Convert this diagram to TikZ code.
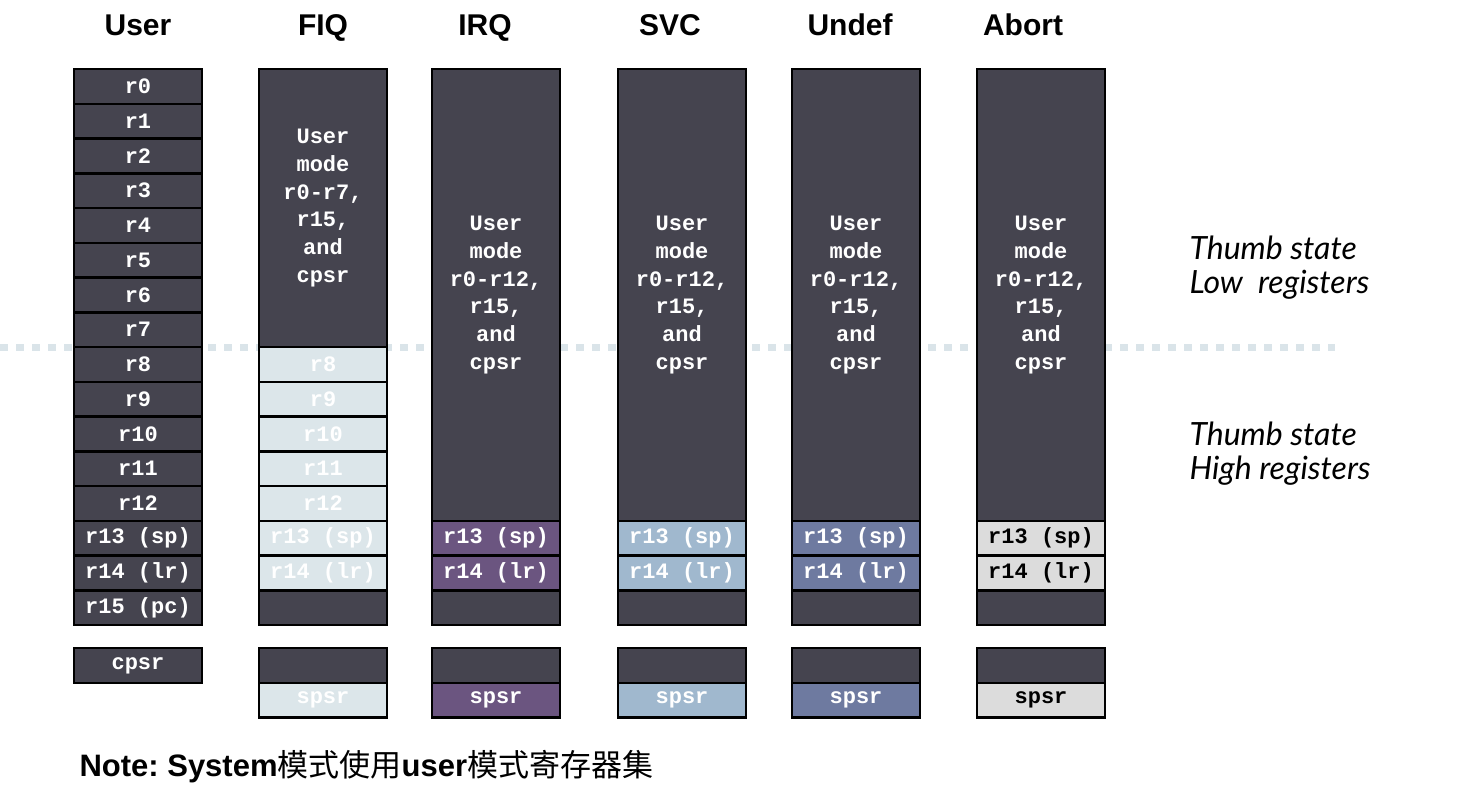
\documentclass[tikz,border=0pt]{standalone}
\usepackage{fontspec}
\setmainfont{Liberation Sans}
\setmonofont{Liberation Mono}
\newfontfamily\cjk{Noto Sans CJK SC}
\newfontfamily\hand{Lato}
\usepackage{xcolor}
\usetikzlibrary{positioning}

\definecolor{regdark}{HTML}{45444F}
\definecolor{regfiq}{HTML}{DCE6EA}
\definecolor{regirq}{HTML}{6B5580}
\definecolor{regsvc}{HTML}{A0B8CE}
\definecolor{regund}{HTML}{6E7AA0}
\definecolor{regabt}{HTML}{DCDCDC}
\definecolor{sepline}{HTML}{DAE4E9}

\tikzset{
  reg/.style={draw=black,line width=2.5pt,fill=regdark,text=white,
    minimum width=128pt,minimum height=34.75pt,inner sep=0pt,outer sep=0pt,
    font=\ttfamily\bfseries\fontsize{22}{27.7}\selectfont,align=center},
  head/.style={anchor=base,font=\bfseries\fontsize{30}{30}\selectfont},
  thumb/.style={anchor=west,align=left,font=\hand\itshape\fontsize{32}{34}\selectfont},
}

\begin{document}
\begin{tikzpicture}[x=1pt,y=-1pt]
        \useasboundingbox (0,0) rectangle (1466,799);

        % thumb state boundary
        \coordinate (sepl) at (0,347);
        \coordinate (sepr) at (1335,347);
        \draw[sepline,line width=7pt,dash pattern=on 8pt off 8pt] (sepl) -- (sepr);

        % headings
        \node[head] (huser) at (138,36) {User};
        \node[head] (hfiq) at (323,36) {FIQ};

        % user mode
        \node[reg] (u0) at (138,86.4) {r0};
        \foreach \i [count=\j from 0] in {1,...,12}
            \node[reg,below=0pt of u\j] (u\i) {r\i};
        \node[reg,below=0pt of u12] (u13) {r13 (sp)};
        \node[reg,below=0pt of u13] (u14) {r14 (lr)};
        \node[reg,below=0pt of u14] (u15) {r15 (pc)};
        \node[reg] (ucpsr) at (138,665.5) {cpsr};

        % fiq mode
        \node[reg,minimum height=278pt] (fiqtop) at (323,208) {User\\mode\\r0-r7,\\r15,\\and\\cpsr};
        \node[reg,fill=regfiq,below=0pt of fiqtop] (fiq8) {r8};
        \foreach \i [count=\j from 8] in {9,...,12}
            \node[reg,fill=regfiq,below=0pt of fiq\j] (fiq\i) {r\i};
        \node[reg,fill=regfiq,below=0pt of fiq12] (fiq13) {r13 (sp)};
        \node[reg,fill=regfiq,below=0pt of fiq13] (fiq14) {r14 (lr)};
        \node[reg,below=0pt of fiq14] (fiq15) {};
        \node[reg] (fiqcpsr) at (323,665.5) {};
        \node[reg,fill=regfiq,below=0pt of fiqcpsr] (fiqspsr) {spsr};

        % irq, svc, undef, abort
        \foreach \n/\x/\hx/\hd/\c/\t in {irq/496/485/IRQ/regirq/white,
                                        svc/682/670/SVC/regsvc/white,
                                        und/856/850/Undef/regund/white,
                                        abt/1041/1023/Abort/regabt/black}{
            \node[head] (h\n) at (\hx,36) {\hd};
            \node[reg,minimum height=451.75pt] (\n top) at (\x,294.9) {User\\mode\\r0-r12,\\r15,\\and\\cpsr};
            \node[reg,fill=\c,text=\t,below=0pt of \n top] (\n13) {r13 (sp)};
            \node[reg,fill=\c,text=\t,below=0pt of \n13] (\n14) {r14 (lr)};
            \node[reg,below=0pt of \n14] (\n15) {};
            \node[reg] (\n cpsr) at (\x,665.5) {};
            \node[reg,fill=\c,text=\t,below=0pt of \n cpsr] (\n spsr) {spsr};
        }

        % thumb notes
        \node[thumb] (tlow) at (1186,268) {Thumb state\\Low\ \ registers};
        \node[thumb] (thigh) at (1186,454) {Thumb state\\High registers};

        \node[anchor=west,font=\bfseries\fontsize{31}{31}\selectfont] (note) at (76,767)
            {Note:\ System{\cjk\mdseries 模式使用}user{\cjk\mdseries 模式寄存器集}};

    \end{tikzpicture}
\end{document}
